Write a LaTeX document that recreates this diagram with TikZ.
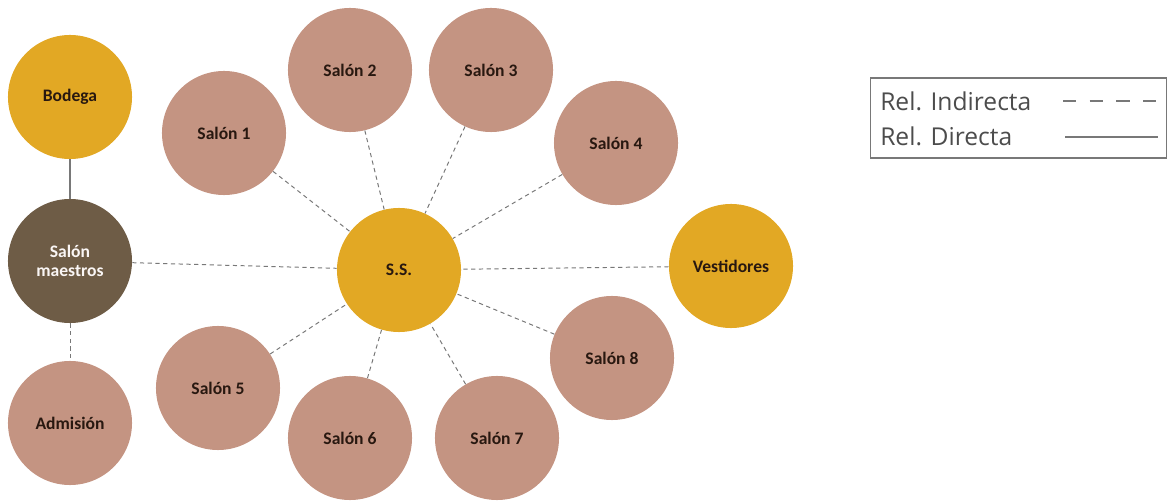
\documentclass[tikz,border=0pt]{standalone}
\usepackage{fontspec}
\setmainfont{Carlito}
\newfontfamily\legendfont{Open Sans}
\usepackage{tikz}
\usetikzlibrary{positioning, calc}

\definecolor{ssgold}{RGB}{226,168,36}
\definecolor{salonrose}{RGB}{196,148,130}
\definecolor{maestrobrown}{RGB}{110,92,70}
\definecolor{labeldark}{RGB}{40,24,16}
\definecolor{relgray}{RGB}{120,120,120}

\begin{document}
\begin{tikzpicture}[x=0.025cm, y=-0.025cm,
    room/.style={circle, minimum size=3.1cm, inner sep=0pt, align=center,
                 font=\bfseries\fontsize{12.5}{14}\selectfont, text=labeldark},
    salon/.style={room, fill=salonrose},
    gold/.style={room, fill=ssgold},
    indirect/.style={draw=relgray, line width=0.7pt, dash pattern=on 3pt off 2.5pt},
    direct/.style={draw=relgray, line width=0.8pt}]

    \useasboundingbox (0,0) rectangle (1167,504);

    % --- Left Column ---
    \node[gold] (bodega) at (70,97) {Bodega};
    \node[room, fill=maestrobrown, text=white!92!salonrose] (maestros) at (70,261) {Salón\\maestros};
    \node[salon] (admision) at (70,423) {Admisión};

    % --- Center ---
    \node[gold] (ss) at (399,270) {S.S.};

    % --- Upper Rooms ---
    \node[salon] (s1) at (224,133) {Salón 1};
    \node[salon] (s2) at (350,70) {Salón 2};
    \node[salon] (s3) at (491,70) {Salón 3};
    \node[salon] (s4) at (616,143) {Salón 4};

    % --- Right ---
    \node[gold] (vest) at (731,266) {Vestidores};

    % --- Lower Rooms ---
    \node[salon] (s5) at (218,388) {Salón 5};
    \node[salon] (s6) at (350,438) {Salón 6};
    \node[salon] (s7) at (497,438) {Salón 7};
    \node[salon] (s8) at (612,358) {Salón 8};

    % --- Relations ---
    \draw[direct] (bodega) -- (maestros);
    \draw[indirect] (maestros) -- (admision);
    \draw[indirect] (maestros) -- (ss);
    \draw[indirect] (vest) -- (ss);
    \foreach \room in {s1,s2,s3,s4,s5,s6,s7,s8}
        \draw[indirect] (\room) -- (ss);

    % --- Legend ---
    \node[draw=relgray, line width=0.8pt, minimum width=7.42cm, minimum height=2cm,
          inner sep=0pt] (legend) at (1018.5,118) {};
    \node[font=\legendfont\fontsize{17.5}{20}\selectfont, text=black!70, anchor=west,
          inner sep=0pt] (indtext) at (880,101) {Rel. Indirecta};
    \node[font=\legendfont\fontsize{17.5}{20}\selectfont, text=black!70, anchor=west,
          inner sep=0pt] (dirtext) at (880,136) {Rel. Directa};
    \coordinate (indA) at (1063,101);
    \coordinate (indB) at (1160,101);
    \coordinate (dirA) at (1065,137);
    \coordinate (dirB) at (1158,137);
    \draw[relgray, line width=2pt, dash pattern=on 9.3pt off 9.7pt] (indA) -- (indB);
    \draw[relgray, line width=2pt] (dirA) -- (dirB);

\end{tikzpicture}
\end{document}
